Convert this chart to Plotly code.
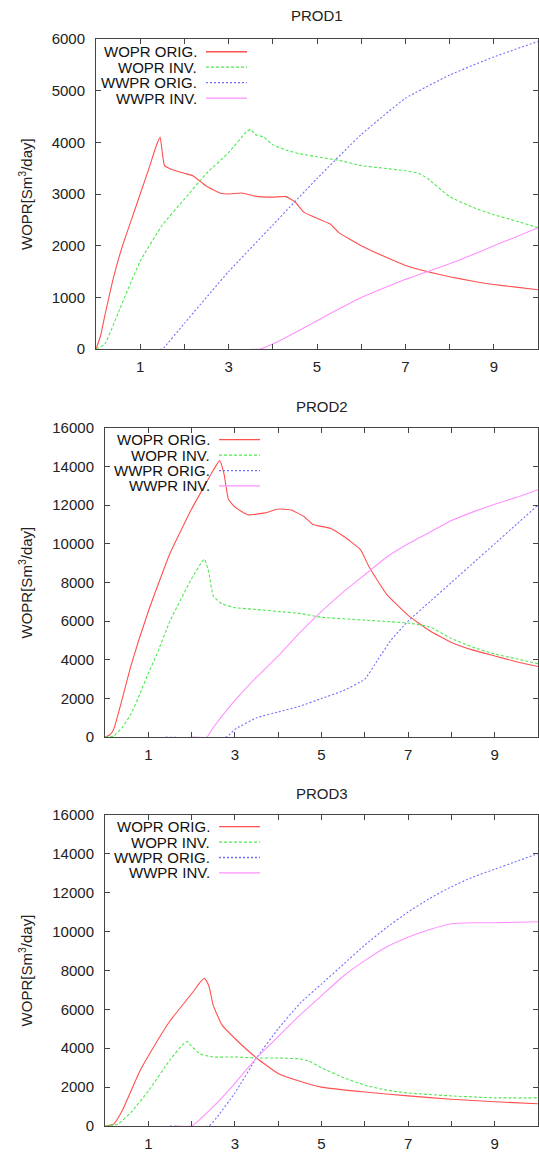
import plotly.graph_objects as go

# ---------------- DATA ----------------
panel_titles = ["PROD1", "PROD2", "PROD3"]
series_names = ["WOPR ORIG.", "WOPR INV.", "WWPR ORIG.", "WWPR INV."]
x_tick_vals = [1, 3, 5, 7, 9]
x_tick_text = ["1", "3", "5", "7", "9"]
x_minor_ticks = [2, 4, 6, 8]
y_ticks_p1 = [0, 1000, 2000, 3000, 4000, 5000, 6000]
y_ticks_p23 = [0, 2000, 4000, 6000, 8000, 10000, 12000, 14000, 16000]

# PROD1
p1_wopr_orig_x = [0, 0.1, 0.2, 0.4, 0.6, 0.8, 1.0, 1.2, 1.35, 1.45, 1.5, 1.55, 1.7, 2.0, 2.2, 2.5, 2.8, 3.0, 3.3, 3.6, 4.0, 4.3, 4.5, 4.7, 5.0, 5.3, 5.5, 6.0, 6.5, 7.0, 7.5, 8.0, 8.5, 9.0, 9.5, 10.0]
p1_wopr_orig_y = [0, 250, 650, 1400, 2000, 2500, 3000, 3500, 3900, 4100, 3800, 3550, 3480, 3400, 3350, 3150, 3020, 3000, 3020, 2960, 2940, 2950, 2850, 2650, 2530, 2420, 2250, 2000, 1800, 1620, 1500, 1400, 1320, 1250, 1200, 1150]
p1_wopr_inv_x = [0, 0.2, 0.5, 1.0, 1.5, 2.0, 2.5, 3.0, 3.4, 3.5, 3.6, 3.8, 4.0, 4.3, 4.6, 5.0, 5.5, 6.0, 6.5, 7.0, 7.3, 7.5, 8.0, 8.5, 9.0, 9.5, 10.0]
p1_wopr_inv_y = [0, 100, 700, 1700, 2400, 2900, 3400, 3800, 4200, 4250, 4150, 4100, 3950, 3850, 3780, 3720, 3650, 3550, 3500, 3450, 3400, 3300, 2950, 2750, 2600, 2480, 2350]
p1_wwpr_orig_x = [1.45, 1.5, 2.0, 3.0, 4.0, 5.0, 6.0, 7.0, 8.0, 9.0, 10.0]
p1_wwpr_orig_y = [0, 0, 500, 1500, 2400, 3300, 4150, 4850, 5300, 5650, 5950]
p1_wwpr_inv_x = [3.5, 3.7, 4.0, 4.5, 5.0, 5.5, 6.0, 6.5, 7.0, 7.5, 8.0, 8.5, 9.0, 9.5, 10.0]
p1_wwpr_inv_y = [0, 0, 100, 320, 550, 780, 1000, 1180, 1350, 1500, 1650, 1820, 2000, 2170, 2350]

# PROD2
p2_wopr_orig_x = [0, 0.1, 0.2, 0.4, 0.6, 1.0, 1.5, 2.0, 2.3, 2.5, 2.65, 2.75, 2.85, 3.0, 3.3, 3.7, 4.0, 4.3, 4.6, 4.8, 5.2, 5.5, 5.9, 6.1, 6.5, 7.0, 7.5, 8.0, 8.5, 9.0, 9.5, 10.0]
p2_wopr_orig_y = [0, 100, 400, 2000, 3700, 6500, 9500, 11800, 13000, 13800, 14300, 13600, 12300, 11900, 11500, 11600, 11800, 11750, 11400, 11000, 10800, 10400, 9700, 8800, 7400, 6300, 5500, 4900, 4500, 4200, 3900, 3650]
p2_wopr_inv_x = [0, 0.2, 0.4, 0.6, 0.8, 1.0, 1.2, 1.5, 2.0, 2.25, 2.3, 2.4, 2.5, 2.7, 3.0, 3.5, 4.0, 4.5, 5.0, 6.0, 7.0, 7.5, 8.0, 8.5, 9.0, 9.5, 10.0]
p2_wopr_inv_y = [0, 50, 500, 1200, 2200, 3300, 4300, 6000, 8200, 9100, 9200, 8500, 7300, 6900, 6700, 6600, 6500, 6400, 6200, 6050, 5900, 5700, 5100, 4650, 4300, 4050, 3800]
p2_wwpr_orig_x = [1.4, 2.8, 3.0, 3.5, 4.0, 4.5, 5.0, 5.5, 6.0, 6.3, 6.6, 7.0, 7.5, 8.0, 8.5, 9.0, 9.5, 10.0]
p2_wwpr_orig_y = [0, 0, 400, 1000, 1300, 1600, 2000, 2400, 3000, 4000, 5000, 6000, 7000, 8000, 9000, 10000, 11000, 12000]
p2_wwpr_inv_x = [2.0, 2.35, 2.5, 3.0, 3.5, 4.0, 4.5, 5.0, 5.5, 6.0, 6.5, 7.0, 7.5, 8.0, 8.5, 9.0, 9.5, 10.0]
p2_wwpr_inv_y = [0, 0, 500, 1900, 3100, 4200, 5400, 6500, 7500, 8400, 9300, 10000, 10600, 11200, 11650, 12050, 12400, 12800]

# PROD3
p3_wopr_orig_x = [0, 0.2, 0.4, 0.6, 0.8, 1.0, 1.5, 2.0, 2.2, 2.3, 2.4, 2.5, 2.7, 3.0, 3.5, 4.0, 4.5, 5.0, 6.0, 7.0, 8.0, 9.0, 10.0]
p3_wopr_orig_y = [0, 100, 800, 1800, 2800, 3600, 5400, 6800, 7400, 7600, 7200, 6200, 5200, 4500, 3500, 2700, 2300, 2000, 1750, 1550, 1380, 1250, 1150]
p3_wopr_inv_x = [0, 0.3, 0.6, 1.0, 1.5, 1.8, 1.9, 2.0, 2.2, 2.5, 3.0, 3.5, 4.0, 4.5, 4.7, 5.0, 5.5, 6.0, 6.5, 7.0, 8.0, 9.0, 10.0]
p3_wopr_inv_y = [0, 100, 700, 1800, 3400, 4200, 4350, 4100, 3700, 3550, 3550, 3500, 3500, 3450, 3350, 3000, 2500, 2100, 1850, 1700, 1550, 1450, 1450]
p3_wwpr_orig_x = [1.5, 2.4, 2.6, 3.0, 3.5, 4.0, 4.5, 5.0, 5.5, 6.0, 6.5, 7.0, 7.5, 8.0, 8.5, 9.0, 9.5, 10.0]
p3_wwpr_orig_y = [0, 0, 500, 1700, 3500, 5000, 6300, 7300, 8300, 9300, 10200, 11000, 11700, 12300, 12800, 13200, 13600, 14000]
p3_wwpr_inv_x = [1.6, 2.0, 2.5, 3.0, 3.5, 4.0, 4.5, 5.0, 5.5, 6.0, 6.5, 7.0, 7.5, 8.0, 8.5, 9.0, 10.0]
p3_wwpr_inv_y = [0, 0, 1000, 2200, 3500, 4600, 5700, 6700, 7700, 8500, 9200, 9700, 10100, 10400, 10450, 10450, 10500]

panels = [
    [(p1_wopr_orig_x, p1_wopr_orig_y), (p1_wopr_inv_x, p1_wopr_inv_y), (p1_wwpr_orig_x, p1_wwpr_orig_y), (p1_wwpr_inv_x, p1_wwpr_inv_y)],
    [(p2_wopr_orig_x, p2_wopr_orig_y), (p2_wopr_inv_x, p2_wopr_inv_y), (p2_wwpr_orig_x, p2_wwpr_orig_y), (p2_wwpr_inv_x, p2_wwpr_inv_y)],
    [(p3_wopr_orig_x, p3_wopr_orig_y), (p3_wopr_inv_x, p3_wopr_inv_y), (p3_wwpr_orig_x, p3_wwpr_orig_y), (p3_wwpr_inv_x, p3_wwpr_inv_y)],
]
y_ranges = [[0, 6000], [0, 16000], [0, 16000]]
y_tick_sets = [y_ticks_p1, y_ticks_p23, y_ticks_p23]

# ---------------- STYLE ----------------
W, H = 539, 1152
colors = ["#ff5050", "#4fe84f", "#6f6fff", "#ff90ff"]
dashes = ["solid", "3px,2px", "2px,2px", "solid"]
FONT = "Liberation Sans, Arial, sans-serif"
TXT = "#222"
AX = "#444"


def py(ref_y):
    """Target pixel row -> paper fraction (compensates the page offset seen in the render)."""
    return 1 - ((ref_y - 8) / 0.98) / H


# target pixel boxes (left, right, top, bottom)
boxes = [(96, 538, 38, 350), (105, 538, 429, 740), (105, 538, 818, 1131)]
title_y = [15, 408, 797]
legend_text_right = [199, 212, 212]
legend_first_row = [13, 12, 12]

fig = go.Figure()
annotations = []
shapes = []

for i, (series, box) in enumerate(zip(panels, boxes)):
    n = "" if i == 0 else str(i + 1)
    xa, ya = "x" + n, "y" + n
    for j, (xs, ys) in enumerate(series):
        fig.add_trace(go.Scatter(
            x=xs, y=ys, mode="lines", name=series_names[j], showlegend=False,
            line=dict(color=colors[j], width=1.1, dash=dashes[j], shape="spline", smoothing=0.4),
            xaxis=xa, yaxis=ya))
    l, r, t, b = box
    xd = [l / W, r / W]
    yd = [py(b), py(t)]
    common = dict(showline=True, linecolor=AX, linewidth=1, mirror="ticks", ticks="inside",
                  ticklen=5, tickcolor=AX, showgrid=False, zeroline=False,
                  tickfont=dict(family=FONT, size=15, color=TXT))
    fig.layout["xaxis" + n] = dict(domain=xd, anchor=ya, range=[0, 10], tickmode="array",
                                   tickvals=x_tick_vals, ticktext=x_tick_text,
                                   ticklabelstandoff=4,
                                   minor=dict(ticks="inside", ticklen=5, tickcolor=AX,
                                              tickmode="array", tickvals=x_minor_ticks, showgrid=False),
                                   **common)
    fig.layout["yaxis" + n] = dict(domain=yd, anchor=xa, range=y_ranges[i], tickmode="array",
                                   tickvals=y_tick_sets[i], ticktext=[str(v) for v in y_tick_sets[i]],
                                   ticklabelstandoff=7, **common)
    # title
    annotations.append(dict(text=panel_titles[i], x=(l + r) / 2 / W, y=py(title_y[i]),
                            xref="paper", yref="paper", showarrow=False, xanchor="center",
                            yanchor="middle", font=dict(family=FONT, size=15, color=TXT)))
    # y axis label
    annotations.append(dict(text="WOPR[Sm<sup>3</sup>/day]", x=25 / W, y=py((t + b) / 2),
                            xref="paper", yref="paper", showarrow=False, textangle=-90,
                            xanchor="center", yanchor="middle",
                            font=dict(family=FONT, size=15, color=TXT)))
    # legend (gnuplot style: text then sample)
    tr = legend_text_right[i]
    s0, s1 = tr + 7, tr + 48
    for j, nm in enumerate(series_names):
        yy = t + legend_first_row[i] + 15.5 * j
        annotations.append(dict(text=nm, x=tr / W, y=py(yy), xref="paper", yref="paper",
                                showarrow=False, xanchor="right", yanchor="middle",
                                font=dict(family=FONT, size=15, color="#111")))
        shapes.append(dict(type="line", xref="paper", yref="paper", x0=s0 / W, x1=s1 / W,
                           y0=py(yy), y1=py(yy),
                           line=dict(color=colors[j], width=1.3, dash=dashes[j])))

fig.update_layout(width=W, height=H, margin=dict(l=0, r=0, t=0, b=0),
                  paper_bgcolor="white", plot_bgcolor="white",
                  annotations=annotations, shapes=shapes, showlegend=False,
                  font=dict(family=FONT))

fig.write_html("out.html", config={"displayModeBar": False},
               post_script="document.body.style.margin='0';document.body.style.overflow='hidden';")
